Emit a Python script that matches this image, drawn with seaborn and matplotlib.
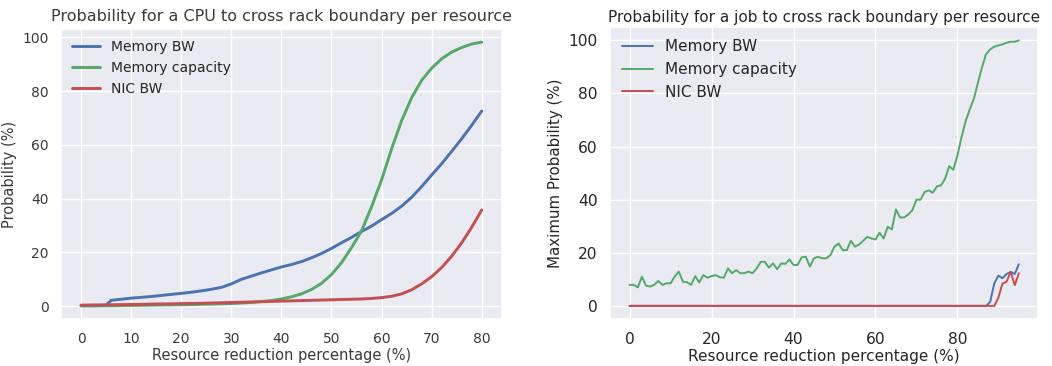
import numpy as np
import pandas as pd
import matplotlib
matplotlib.use("Agg")
import matplotlib.pyplot as plt
import seaborn as sns

# ---------------- data: left panel (per CPU) ----------------
cpu_x = [0, 2, 4, 5, 6, 8, 10, 12, 14, 16, 18, 20, 22, 24, 26, 28, 30, 32, 34, 36, 38,
         40, 42, 44, 46, 48, 50, 52, 54, 56, 58, 60, 62, 64, 66, 68, 70, 72, 74, 76, 78, 80]
cpu_mem_bw = [0.3, 0.3, 0.3, 0.4, 2.2, 2.6, 3.0, 3.3, 3.6, 4.0, 4.4, 4.8, 5.2, 5.7, 6.3, 7.0,
              8.3, 10.0, 11.2, 12.4, 13.5, 14.6, 15.5, 16.6, 18.0, 19.6, 21.5, 23.6, 25.6,
              27.8, 29.8, 32.2, 34.5, 37.2, 40.5, 44.5, 48.8, 53.0, 57.6, 62.3, 67.3, 72.6]
cpu_mem_cap = [0.1, 0.1, 0.15, 0.2, 0.2, 0.25, 0.3, 0.35, 0.4, 0.45, 0.5, 0.55, 0.6, 0.7,
               0.8, 0.9, 1.0, 1.2, 1.4, 1.7, 2.1, 2.7, 3.5, 4.6, 6.2, 8.5, 11.8, 16.2, 21.8,
               28.0, 37.0, 47.0, 58.5, 69.0, 77.5, 84.0, 88.5, 92.0, 94.5, 96.2, 97.5, 98.2]
cpu_nic_bw = [0.4, 0.45, 0.5, 0.5, 0.55, 0.6, 0.65, 0.7, 0.8, 0.85, 0.9, 1.0, 1.05, 1.1,
              1.2, 1.3, 1.4, 1.5, 1.6, 1.7, 1.8, 1.9, 2.0, 2.1, 2.2, 2.3, 2.4, 2.5, 2.6,
              2.7, 2.9, 3.2, 3.7, 4.6, 6.1, 8.3, 11.0, 14.4, 18.6, 23.6, 29.4, 35.8]

# ---------------- data: right panel (per job) ----------------
job_x = list(range(0, 96))
job_mem_cap = [7.9, 7.9, 7.0, 11.0, 7.6, 7.3, 7.9, 9.4, 7.9, 8.5,
               8.5, 11.0, 12.9, 9.1, 8.9, 7.9, 11.2, 8.8, 11.6, 10.6,
               11.2, 11.6, 10.8, 10.6, 14.1, 12.3, 13.5, 12.3, 12.3, 12.9,
               12.3, 14.1, 16.6, 16.6, 14.4, 16.0, 13.8, 16.0, 15.8, 17.5,
               15.4, 15.4, 18.3, 18.5, 14.8, 17.9, 18.5, 17.9, 17.9, 19.1,
               22.3, 23.5, 21.0, 21.0, 24.5, 22.3, 23.1, 24.5, 26.0, 25.4,
               25.0, 27.5, 25.4, 29.8, 28.8, 36.3, 33.3, 33.3, 34.4, 36.0,
               40.0, 40.0, 42.9, 43.5, 42.6, 45.0, 45.4, 47.9, 52.6, 51.3,
               56.6, 63.5, 69.5, 74.0, 77.9, 84.0, 89.8, 94.8, 96.6, 97.6,
               98.1, 98.5, 99.1, 99.5, 99.5, 100.0]
job_mem_bw = [0.0] * 88 + [1.5, 8.5, 11.4, 10.4, 12.0, 12.8, 12.0, 15.7]
job_nic_bw = [0.0] * 90 + [3.1, 8.4, 9.1, 12.8, 7.8, 12.3]

series_names = ["Memory BW", "Memory capacity", "NIC BW"]

left_df = pd.concat([
    pd.DataFrame({"x": cpu_x, "y": cpu_mem_bw, "Resource": series_names[0]}),
    pd.DataFrame({"x": cpu_x, "y": cpu_mem_cap, "Resource": series_names[1]}),
    pd.DataFrame({"x": cpu_x, "y": cpu_nic_bw, "Resource": series_names[2]}),
])
right_df = pd.concat([
    pd.DataFrame({"x": job_x, "y": job_mem_bw, "Resource": series_names[0]}),
    pd.DataFrame({"x": job_x, "y": job_mem_cap, "Resource": series_names[1]}),
    pd.DataFrame({"x": job_x, "y": job_nic_bw, "Resource": series_names[2]}),
])

sns.set_theme(style="darkgrid", palette="deep")
plt.rcParams["font.family"] = ["DejaVu Sans"]
colors = {"Memory BW": "#4C72B0", "Memory capacity": "#55A868", "NIC BW": "#C44E52"}

fig = plt.figure(figsize=(10.52, 3.66), dpi=100)
fig.patch.set_facecolor("white")

# ---- left panel ----
ax1 = fig.add_axes([0.058, 0.128, 0.419, 0.793])
sns.lineplot(data=left_df, x="x", y="y", hue="Resource", palette=colors,
             linewidth=2.1, ax=ax1)
ax1.set_title("Probability for a CPU to cross rack boundary per resource",
              fontsize=11.5, color="#3a3a3a", pad=6)
ax1.set_xlabel("Resource reduction percentage (%)", fontsize=10.5, color="#3a3a3a", labelpad=2)
ax1.set_ylabel("Probability (%)", fontsize=10.5, color="#3a3a3a", labelpad=4)
ax1.set_xticks([0, 10, 20, 30, 40, 50, 60, 70, 80])
ax1.set_yticks([0, 20, 40, 60, 80, 100])
ax1.tick_params(labelsize=10, colors="#3a3a3a", pad=3)
ax1.legend(title=None, loc="upper left", frameon=False, fontsize=10,
           handlelength=2.0, borderaxespad=0.4)

# ---- right panel ----
ax2 = fig.add_axes([0.580, 0.128, 0.407, 0.798])
sns.lineplot(data=right_df, x="x", y="y", hue="Resource", palette=colors,
             linewidth=1.4, ax=ax2)
ax2.set_title("Probability for a job to cross rack boundary per resource",
              fontsize=11, color="#262626", pad=4)
ax2.set_xlabel("Resource reduction percentage (%)", fontsize=11, color="#262626", labelpad=2)
ax2.set_ylabel("Maximum Probability (%)", fontsize=10.8, color="#262626", labelpad=4)
ax2.set_xticks([0, 20, 40, 60, 80])
ax2.set_yticks([0, 20, 40, 60, 80, 100])
ax2.tick_params(labelsize=11.2, colors="#262626", pad=3)
ax2.legend(title=None, loc="upper left", frameon=False, fontsize=11,
           handlelength=2.0, borderaxespad=0.4)

fig.savefig("out.png", dpi=100, facecolor="white")
